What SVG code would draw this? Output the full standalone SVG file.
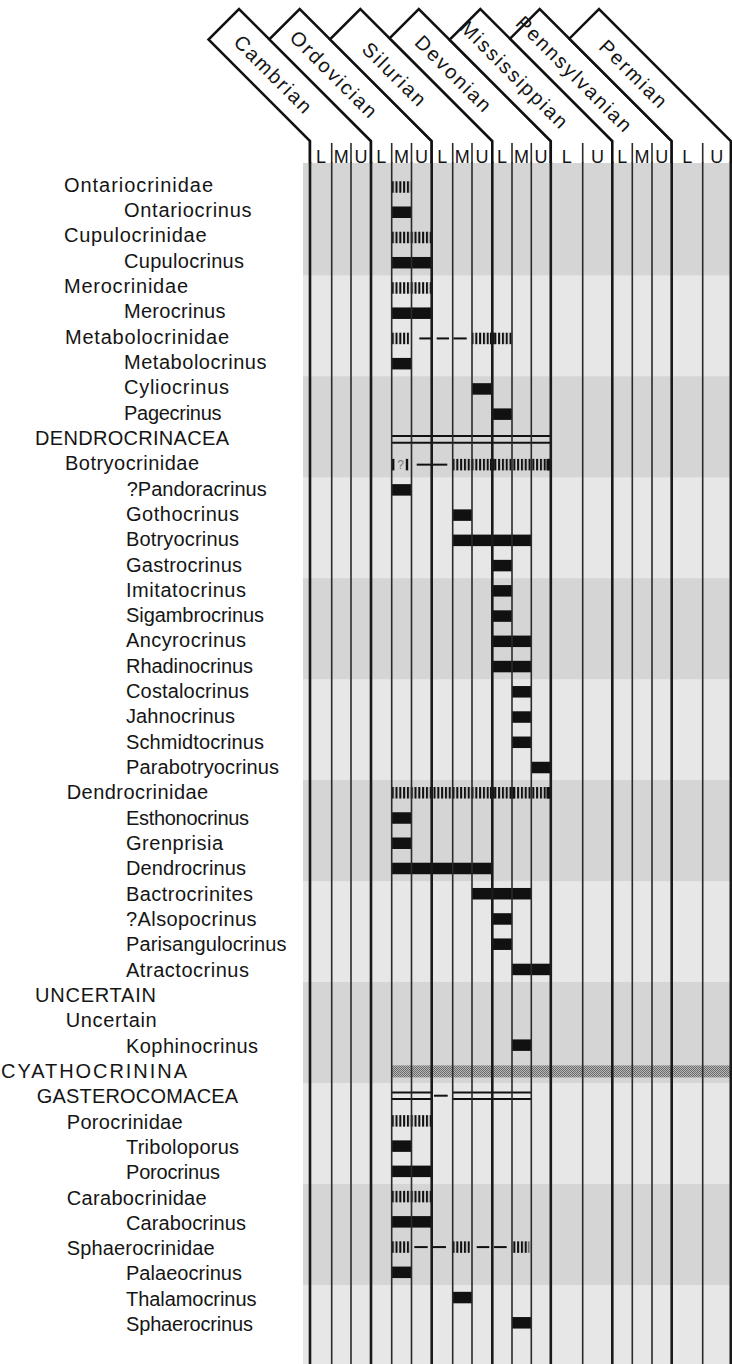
<svg xmlns="http://www.w3.org/2000/svg" width="732" height="1364" viewBox="0 0 732 1364">
<defs>
<style>
.lbl{font-family:"Liberation Sans",Arial,sans-serif;font-size:20px;fill:#151515}
.tabt{font-family:"Liberation Sans",Arial,sans-serif;font-size:20px;letter-spacing:2px;fill:#151515;text-anchor:middle}
.sub{font-family:"Liberation Sans",Arial,sans-serif;font-size:18px;fill:#151515;text-anchor:middle}
.tab{fill:#fff;stroke:none}
.tabo{fill:none;stroke:#111;stroke-width:2.5;stroke-linejoin:miter}
.thick{stroke:#1a1a1a;stroke-width:2.6}
.thin{stroke:#2a2a2a;stroke-width:1.6}
.bar{fill:#111}
.hat{fill:url(#hatch)}
.dl{stroke:#111;stroke-width:2}
.dbl{stroke:#111;stroke-width:2}
.light{fill:#e7e7e7}
.dark{fill:#d5d5d5}
</style>
<pattern id="hatch" patternUnits="userSpaceOnUse" x="391.7" y="0" width="3.8" height="40">
<rect x="0" y="0" width="2.1" height="40" fill="#111"/>
</pattern>
<pattern id="stip" patternUnits="userSpaceOnUse" width="2" height="2">
<rect width="2" height="2" fill="#b8b8b8"/>
<rect width="1" height="1" fill="#6a6a6a"/>
<rect x="1" y="1" width="1" height="1" fill="#6a6a6a"/>
</pattern>
</defs>

<g id="background">
<rect class="light" x="303" y="163" width="429" height="1201"/>
<rect class="dark" x="303" y="163" width="429" height="112.34"/>
<rect class="dark" x="303" y="376.3" width="429" height="100.96"/>
<rect class="dark" x="303" y="578.22" width="429" height="100.96"/>
<rect class="dark" x="303" y="780.14" width="429" height="100.96"/>
<rect class="dark" x="303" y="982.06" width="429" height="100.96"/>
<rect class="dark" x="303" y="1183.98" width="429" height="100.96"/>
</g>

<g id="rows">
<g id="r0"><text class="lbl" x="64" y="191.7" textLength="149" lengthAdjust="spacing">Ontariocrinidae</text><rect class="hat" x="391.7" y="181.25" width="19" height="11.5"/></g>
<g id="r1"><text class="lbl" x="124" y="217.02" textLength="127.5" lengthAdjust="spacing">Ontariocrinus</text><rect class="bar" x="391.7" y="206.49" width="19.8" height="11.5"/></g>
<g id="r2"><text class="lbl" x="64" y="242.34" textLength="142.5" lengthAdjust="spacing">Cupulocrinidae</text><rect class="hat" x="391.7" y="231.73" width="40" height="11.5"/></g>
<g id="r3"><text class="lbl" x="124" y="267.66" textLength="120" lengthAdjust="spacing">Cupulocrinus</text><rect class="bar" x="391.7" y="256.97" width="40" height="11.5"/></g>
<g id="r4"><text class="lbl" x="64" y="292.98" textLength="124" lengthAdjust="spacing">Merocrinidae</text><rect class="hat" x="391.7" y="282.21" width="40" height="11.5"/></g>
<g id="r5"><text class="lbl" x="124" y="318.3" textLength="101.5" lengthAdjust="spacing">Merocrinus</text><rect class="bar" x="391.7" y="307.45" width="40" height="11.5"/></g>
<g id="r6"><text class="lbl" x="65" y="343.62" textLength="164" lengthAdjust="spacing">Metabolocrinidae</text>
<rect class="hat" x="391.7" y="332.69" width="17.6" height="11.5"/>
<line class="dl" x1="419.3" y1="338.44" x2="431" y2="338.44"/><line class="dl" x1="436.7" y1="338.44" x2="449" y2="338.44"/><line class="dl" x1="453.3" y1="338.44" x2="466.7" y2="338.44"/>
<rect class="hat" x="471.7" y="332.69" width="41" height="11.5"/><rect class="bar" x="490" y="332.69" width="4.6" height="11.5"/></g>
<g id="r7"><text class="lbl" x="124" y="368.94" textLength="142.5" lengthAdjust="spacing">Metabolocrinus</text><rect class="bar" x="391.7" y="357.93" width="19.8" height="11.5"/></g>
<g id="r8"><text class="lbl" x="124" y="394.26" textLength="105" lengthAdjust="spacing">Cyliocrinus</text><rect class="bar" x="472" y="383.17" width="20.3" height="11.5"/></g>
<g id="r9"><text class="lbl" x="124" y="419.58" textLength="97.5" lengthAdjust="spacing">Pagecrinus</text><rect class="bar" x="492.3" y="408.41" width="19.7" height="11.5"/></g>
<g id="r10"><text class="lbl" x="35" y="444.9" textLength="194" lengthAdjust="spacing">DENDROCRINACEA</text>
<line class="dbl" x1="391.7" y1="436.1" x2="551" y2="436.1"/><line class="dbl" x1="391.7" y1="442.7" x2="551" y2="442.7"/></g>
<g id="r11"><text class="lbl" x="65" y="470.22" textLength="134" lengthAdjust="spacing">Botryocrinidae</text>
<rect class="bar" x="392" y="458.89" width="2.4" height="11.5"/>
<text x="400.5" y="469" font-family="Liberation Sans, Arial, sans-serif" font-size="12" fill="#777" text-anchor="middle">?</text>
<rect class="bar" x="405.8" y="458.89" width="2.4" height="11.5"/>
<line class="dl" x1="416.7" y1="464.64" x2="447.3" y2="464.64"/>
<rect class="hat" x="452.7" y="458.89" width="98.3" height="11.5"/><rect class="bar" x="490" y="458.89" width="4.6" height="11.5"/><rect class="bar" x="546.5" y="458.89" width="4.5" height="11.5"/></g>
<g id="r12"><text class="lbl" x="126.7" y="495.54" textLength="140" lengthAdjust="spacing">?Pandoracrinus</text><rect class="bar" x="391.7" y="484.13" width="19.8" height="11.5"/></g>
<g id="r13"><text class="lbl" x="126" y="520.86" textLength="113" lengthAdjust="spacing">Gothocrinus</text><rect class="bar" x="452.7" y="509.37" width="19.3" height="11.5"/></g>
<g id="r14"><text class="lbl" x="126" y="546.18" textLength="113" lengthAdjust="spacing">Botryocrinus</text><rect class="bar" x="452.7" y="534.61" width="78.6" height="11.5"/></g>
<g id="r15"><text class="lbl" x="126" y="571.5" textLength="116" lengthAdjust="spacing">Gastrocrinus</text><rect class="bar" x="492.3" y="559.85" width="19.7" height="11.5"/></g>
<g id="r16"><text class="lbl" x="126" y="596.82" textLength="120" lengthAdjust="spacing">Imitatocrinus</text><rect class="bar" x="492.3" y="585.09" width="19.7" height="11.5"/></g>
<g id="r17"><text class="lbl" x="126" y="622.14" textLength="138" lengthAdjust="spacing">Sigambrocrinus</text><rect class="bar" x="492.3" y="610.33" width="19.7" height="11.5"/></g>
<g id="r18"><text class="lbl" x="126" y="647.46" textLength="120" lengthAdjust="spacing">Ancyrocrinus</text><rect class="bar" x="492.3" y="635.57" width="39" height="11.5"/></g>
<g id="r19"><text class="lbl" x="126" y="672.78" textLength="127" lengthAdjust="spacing">Rhadinocrinus</text><rect class="bar" x="492.3" y="660.81" width="39" height="11.5"/></g>
<g id="r20"><text class="lbl" x="126" y="698.1" textLength="123" lengthAdjust="spacing">Costalocrinus</text><rect class="bar" x="512" y="686.05" width="19.3" height="11.5"/></g>
<g id="r21"><text class="lbl" x="126" y="723.42" textLength="109" lengthAdjust="spacing">Jahnocrinus</text><rect class="bar" x="512" y="711.29" width="19.3" height="11.5"/></g>
<g id="r22"><text class="lbl" x="126" y="748.74" textLength="138" lengthAdjust="spacing">Schmidtocrinus</text><rect class="bar" x="512" y="736.53" width="19.3" height="11.5"/></g>
<g id="r23"><text class="lbl" x="126" y="774.06" textLength="153" lengthAdjust="spacing">Parabotryocrinus</text><rect class="bar" x="531.3" y="761.77" width="19.5" height="11.5"/></g>
<g id="r24"><text class="lbl" x="66.7" y="799.38" textLength="141.5" lengthAdjust="spacing">Dendrocrinidae</text>
<rect class="hat" x="391.7" y="787.01" width="159.3" height="11.5"/><rect class="bar" x="490" y="787.01" width="4.6" height="11.5"/><rect class="bar" x="510" y="787.01" width="4.4" height="11.5"/><rect class="bar" x="546.5" y="787.01" width="4.5" height="11.5"/></g>
<g id="r25"><text class="lbl" x="126" y="824.7" textLength="123" lengthAdjust="spacing">Esthonocrinus</text><rect class="bar" x="391.7" y="812.25" width="19.8" height="11.5"/></g>
<g id="r26"><text class="lbl" x="126" y="850.02" textLength="97" lengthAdjust="spacing">Grenprisia</text><rect class="bar" x="391.7" y="837.49" width="19.8" height="11.5"/></g>
<g id="r27"><text class="lbl" x="126" y="875.34" textLength="120" lengthAdjust="spacing">Dendrocrinus</text><rect class="bar" x="391.7" y="862.73" width="100.6" height="11.5"/></g>
<g id="r28"><text class="lbl" x="126" y="900.66" textLength="127" lengthAdjust="spacing">Bactrocrinites</text><rect class="bar" x="472" y="887.97" width="59.3" height="11.5"/></g>
<g id="r29"><text class="lbl" x="126" y="925.98" textLength="130.5" lengthAdjust="spacing">?Alsopocrinus</text><rect class="bar" x="492.3" y="913.21" width="19.7" height="11.5"/></g>
<g id="r30"><text class="lbl" x="126" y="951.3" textLength="160.5" lengthAdjust="spacing">Parisangulocrinus</text><rect class="bar" x="492.3" y="938.45" width="19.7" height="11.5"/></g>
<g id="r31"><text class="lbl" x="126" y="976.62" textLength="123" lengthAdjust="spacing">Atractocrinus</text><rect class="bar" x="512" y="963.69" width="38.8" height="11.5"/></g>
<g id="r32"><text class="lbl" x="35" y="1001.94" textLength="121" lengthAdjust="spacing">UNCERTAIN</text></g>
<g id="r33"><text class="lbl" x="65.7" y="1027.26" textLength="91" lengthAdjust="spacing">Uncertain</text></g>
<g id="r34"><text class="lbl" x="126" y="1052.58" textLength="132" lengthAdjust="spacing">Kophinocrinus</text><rect class="bar" x="512" y="1039.41" width="19.3" height="11.5"/></g>
<g id="r35"><text class="lbl" x="1" y="1077.9" textLength="186" lengthAdjust="spacing">CYATHOCRININA</text><rect fill="url(#stip)" x="391.7" y="1065.4" width="340.3" height="12"/></g>
<g id="r36"><text class="lbl" x="36.7" y="1103.22" textLength="201.5" lengthAdjust="spacing">GASTEROCOMACEA</text>
<line class="dbl" x1="391.7" y1="1092.6" x2="431.7" y2="1092.6"/><line class="dbl" x1="391.7" y1="1098.9" x2="431.7" y2="1098.9"/>
<line class="dl" x1="434" y1="1095.7" x2="447.7" y2="1095.7"/>
<line class="dbl" x1="452.7" y1="1092.6" x2="531.3" y2="1092.6"/><line class="dbl" x1="452.7" y1="1098.9" x2="531.3" y2="1098.9"/></g>
<g id="r37"><text class="lbl" x="66.7" y="1128.54" textLength="116" lengthAdjust="spacing">Porocrinidae</text><rect class="hat" x="391.7" y="1115.13" width="40" height="11.5"/></g>
<g id="r38"><text class="lbl" x="126" y="1153.86" textLength="113" lengthAdjust="spacing">Triboloporus</text><rect class="bar" x="391.7" y="1140.37" width="19.8" height="11.5"/></g>
<g id="r39"><text class="lbl" x="126" y="1179.18" textLength="94" lengthAdjust="spacing">Porocrinus</text><rect class="bar" x="391.7" y="1165.61" width="40" height="11.5"/></g>
<g id="r40"><text class="lbl" x="66.7" y="1204.5" textLength="140" lengthAdjust="spacing">Carabocrinidae</text><rect class="hat" x="391.7" y="1190.85" width="40" height="11.5"/></g>
<g id="r41"><text class="lbl" x="126" y="1229.82" textLength="120" lengthAdjust="spacing">Carabocrinus</text><rect class="bar" x="391.7" y="1216.09" width="40" height="11.5"/></g>
<g id="r42"><text class="lbl" x="66.7" y="1255.14" textLength="148" lengthAdjust="spacing">Sphaerocrinidae</text>
<rect class="hat" x="391.7" y="1241.33" width="18.3" height="11.5"/>
<line class="dl" x1="414.3" y1="1247.08" x2="427.7" y2="1247.08"/><line class="dl" x1="431.7" y1="1247.08" x2="446" y2="1247.08"/>
<rect class="hat" x="451.7" y="1241.33" width="18.3" height="11.5"/>
<line class="dl" x1="476.7" y1="1247.08" x2="489.3" y2="1247.08"/><line class="dl" x1="494" y1="1247.08" x2="506.7" y2="1247.08"/>
<rect class="hat" x="512.7" y="1241.33" width="16.6" height="11.5"/></g>
<g id="r43"><text class="lbl" x="126" y="1280.46" textLength="116" lengthAdjust="spacing">Palaeocrinus</text><rect class="bar" x="391.7" y="1266.57" width="19.8" height="11.5"/></g>
<g id="r44"><text class="lbl" x="126" y="1305.78" textLength="130.5" lengthAdjust="spacing">Thalamocrinus</text><rect class="bar" x="452.7" y="1291.81" width="19.3" height="11.5"/></g>
<g id="r45"><text class="lbl" x="126" y="1331.1" textLength="127" lengthAdjust="spacing">Sphaerocrinus</text><rect class="bar" x="512" y="1317.05" width="19.3" height="11.5"/></g>
</g>

<g id="grid">
<line class="thick" x1="310" y1="141" x2="310" y2="1364"/>
<line class="thin" x1="331.7" y1="143" x2="331.7" y2="1364"/>
<line class="thin" x1="351" y1="143" x2="351" y2="1364"/>
<line class="thick" x1="371" y1="141" x2="371" y2="1364"/>
<line class="thin" x1="391.7" y1="143" x2="391.7" y2="1364"/>
<line class="thin" x1="411.5" y1="143" x2="411.5" y2="1364"/>
<line class="thick" x1="431.7" y1="141" x2="431.7" y2="1364"/>
<line class="thin" x1="452.7" y1="143" x2="452.7" y2="1364"/>
<line class="thin" x1="472" y1="143" x2="472" y2="1364"/>
<line class="thick" x1="492.3" y1="141" x2="492.3" y2="1364"/>
<line class="thin" x1="512" y1="143" x2="512" y2="1364"/>
<line class="thin" x1="531.3" y1="143" x2="531.3" y2="1364"/>
<line class="thick" x1="550.8" y1="141" x2="550.8" y2="1364"/>
<line class="thin" x1="582.7" y1="143" x2="582.7" y2="1364"/>
<line class="thick" x1="612.3" y1="141" x2="612.3" y2="1364"/>
<line class="thin" x1="632.3" y1="143" x2="632.3" y2="1364"/>
<line class="thin" x1="652" y1="143" x2="652" y2="1364"/>
<line class="thick" x1="671.7" y1="141" x2="671.7" y2="1364"/>
<line class="thin" x1="702.7" y1="143" x2="702.7" y2="1364"/>
<line class="thick" x1="730.8" y1="141" x2="730.8" y2="1364"/>
</g>

<g id="header">
<g id="tab-cambrian">
<polygon class="tab" points="208.5,39.5 239,9 371,141 371,162 310,162 310,141"/>
<polyline class="tabo" points="310,163 310,141 208.5,39.5 239,9 371,141 371,163"/>
<text class="tabt" transform="translate(274,74.3) rotate(45)" y="7.5">Cambrian</text>
</g>
<g id="tab-ordovician">
<polygon class="tab" points="269.35,39.35 299.7,9 431.7,141 431.7,162 371,162 371,141"/>
<polyline class="tabo" points="371,163 371,141 269.35,39.35 299.7,9 431.7,141 431.7,163"/>
<text class="tabt" transform="translate(334.7,74.4) rotate(45)" y="7.5">Ordovician</text>
</g>
<g id="tab-silurian">
<polygon class="tab" points="330,39.3 360.3,9 492.3,141 492.3,162 431.7,162 431.7,141"/>
<polyline class="tabo" points="431.7,163 431.7,141 330,39.3 360.3,9 492.3,141 492.3,163"/>
<text class="tabt" transform="translate(395.35,74.35) rotate(45)" y="7.5">Silurian</text>
</g>
<g id="tab-devonian">
<polygon class="tab" points="389.55,38.25 418.8,9 550.8,141 550.8,162 492.3,162 492.3,141"/>
<polyline class="tabo" points="492.3,163 492.3,141 389.55,38.25 418.8,9 550.8,141 550.8,163"/>
<text class="tabt" transform="translate(454.4,73.8) rotate(45)" y="7.5">Devonian</text>
</g>
<g id="tab-mississippian">
<polygon class="tab" points="449.55,39.75 480.3,9 612.3,141 612.3,162 550.8,162 550.8,141"/>
<polyline class="tabo" points="550.8,163 550.8,141 449.55,39.75 480.3,9 612.3,141 612.3,163"/>
<text class="tabt" transform="translate(515.1,74.6) rotate(45)" y="7.5">Mississippian</text>
</g>
<g id="tab-pennsylvanian">
<polygon class="tab" points="510,38.7 539.7,9 671.7,141 671.7,162 612.3,162 612.3,141"/>
<polyline class="tabo" points="612.3,163 612.3,141 510,38.7 539.7,9 671.7,141 671.7,163"/>
<text class="tabt" transform="translate(575.05,74.05) rotate(45)" y="7.5">Pennsylvanian</text>
</g>
<g id="tab-permian">
<polygon class="tab" points="569.35,38.65 599,9 731,141 731,162 671.7,162 671.7,141"/>
<polyline class="tabo" points="671.7,163 671.7,141 569.35,38.65 599,9 730.8,141 730.8,163"/>
<text class="tabt" transform="translate(634.4,74) rotate(45)" y="7.5">Permian</text>
</g>
<line class="thin" x1="331.7" y1="143" x2="331.7" y2="163"/>
<line class="thin" x1="351" y1="143" x2="351" y2="163"/>
<line class="thin" x1="391.7" y1="143" x2="391.7" y2="163"/>
<line class="thin" x1="411.5" y1="143" x2="411.5" y2="163"/>
<line class="thin" x1="452.7" y1="143" x2="452.7" y2="163"/>
<line class="thin" x1="472" y1="143" x2="472" y2="163"/>
<line class="thin" x1="512" y1="143" x2="512" y2="163"/>
<line class="thin" x1="531.3" y1="143" x2="531.3" y2="163"/>
<line class="thin" x1="582.7" y1="143" x2="582.7" y2="163"/>
<line class="thin" x1="632.3" y1="143" x2="632.3" y2="163"/>
<line class="thin" x1="652" y1="143" x2="652" y2="163"/>
<line class="thin" x1="702.7" y1="143" x2="702.7" y2="163"/>
<g id="subdivisions">
<text class="sub" x="321" y="162.5">L</text><text class="sub" x="341.3" y="162.5">M</text><text class="sub" x="361" y="162.5">U</text>
<text class="sub" x="381.3" y="162.5">L</text><text class="sub" x="401.6" y="162.5">M</text><text class="sub" x="421.6" y="162.5">U</text>
<text class="sub" x="442.2" y="162.5">L</text><text class="sub" x="462.3" y="162.5">M</text><text class="sub" x="482.1" y="162.5">U</text>
<text class="sub" x="502.1" y="162.5">L</text><text class="sub" x="521.6" y="162.5">M</text><text class="sub" x="541" y="162.5">U</text>
<text class="sub" x="566.7" y="162.5">L</text><text class="sub" x="597.5" y="162.5">U</text>
<text class="sub" x="622.3" y="162.5">L</text><text class="sub" x="642.1" y="162.5">M</text><text class="sub" x="661.8" y="162.5">U</text>
<text class="sub" x="687.2" y="162.5">L</text><text class="sub" x="716.8" y="162.5">U</text>
</g>
</g>
</svg>
